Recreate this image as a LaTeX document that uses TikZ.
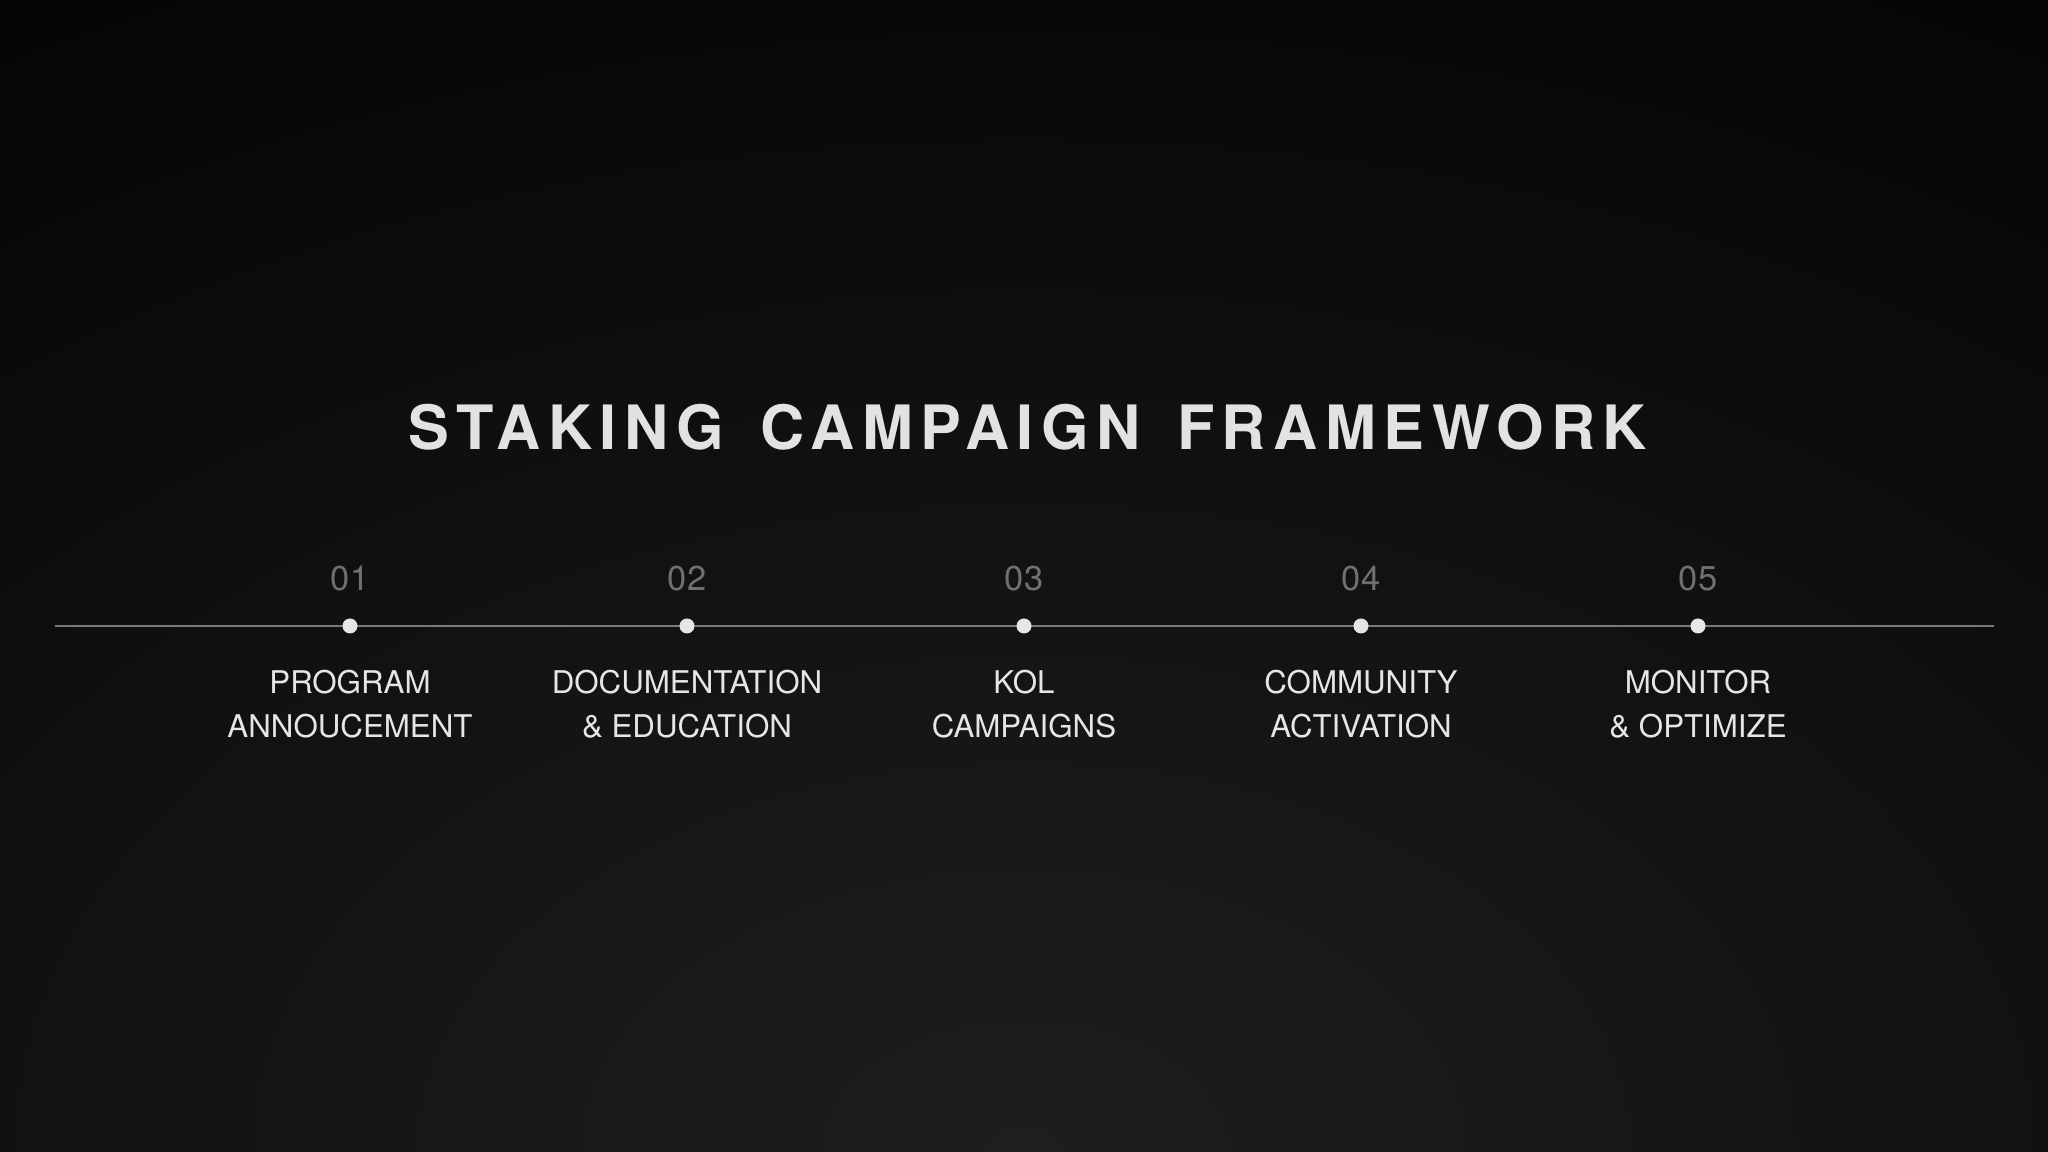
\documentclass[tikz,border=0pt]{standalone}
\usepackage{fontspec}
\setmainfont{TeX Gyre Heros}
\newfontfamily\titlefont{TeX Gyre Heros}[LetterSpace=12.3]
\usepackage{tikz}
\usetikzlibrary{positioning}

\definecolor{bgcenter}{HTML}{1E1E1E}
\definecolor{bgedge}{HTML}{050505}
\definecolor{titlegray}{HTML}{E2E2E2}
\definecolor{numgray}{HTML}{707070}
\definecolor{labelgray}{HTML}{E6E6E6}
\definecolor{linegray}{HTML}{7A7A7A}

\newcommand{\wordgap}{\hspace{0.12cm}}

\tikzset{
    milestone/.style = {circle, fill=labelgray, inner sep=0pt, minimum size=0.15cm},
    stepnum/.style = {text=numgray, font=\fontsize{9.8}{12}\selectfont, inner sep=0pt},
    steplabel/.style = {text=labelgray, font=\fontsize{8.9}{12.5}\selectfont,
        align=center, inner sep=0pt},
}

\begin{document}
\begin{tikzpicture}[
        x = 1cm, y = 1cm,
        ]

        % Background
        \useasboundingbox (0,0) rectangle (20.48,11.52);
        \fill[bgedge] (0,0) rectangle (20.48,11.52);
        \begin{scope}
            \clip (0,0) rectangle (20.48,11.52);
            \shade[inner color=bgcenter, outer color=bgedge] (-10,-13) rectangle (30.48,13);
        \end{scope}

        % Title
        \node (title) at (10.28,7.25) [text=titlegray, inner sep=0pt]
            {\titlefont\bfseries\fontsize{17.4}{20}\selectfont
            STAKING \wordgap CAMPAIGN \wordgap FRAMEWORK};

        % Timeline
        \coordinate (start) at (0.55,5.26);
        \coordinate (end) at (19.94,5.26);
        \draw[linegray, line width=0.6pt] (start) -- (end);

        % Milestones
        \node (d1) at (3.50,5.26) [milestone] {};
        \node (n1) at (3.50,5.73) [stepnum] {01};
        \node (l1) at (3.50,4.48) [steplabel] {PROGRAM\\ANNOUCEMENT};

        \node (d2) at (6.87,5.26) [milestone] {};
        \node (n2) at (6.87,5.73) [stepnum] {02};
        \node (l2) at (6.87,4.48) [steplabel] {DOCUMENTATION\\\& EDUCATION};

        \node (d3) at (10.24,5.26) [milestone] {};
        \node (n3) at (10.24,5.73) [stepnum] {03};
        \node (l3) at (10.24,4.48) [steplabel] {KOL\\CAMPAIGNS};

        \node (d4) at (13.61,5.26) [milestone] {};
        \node (n4) at (13.61,5.73) [stepnum] {04};
        \node (l4) at (13.61,4.48) [steplabel] {COMMUNITY\\ACTIVATION};

        \node (d5) at (16.98,5.26) [milestone] {};
        \node (n5) at (16.98,5.73) [stepnum] {05};
        \node (l5) at (16.98,4.48) [steplabel] {MONITOR\\\& OPTIMIZE};
    \end{tikzpicture}
\end{document}
